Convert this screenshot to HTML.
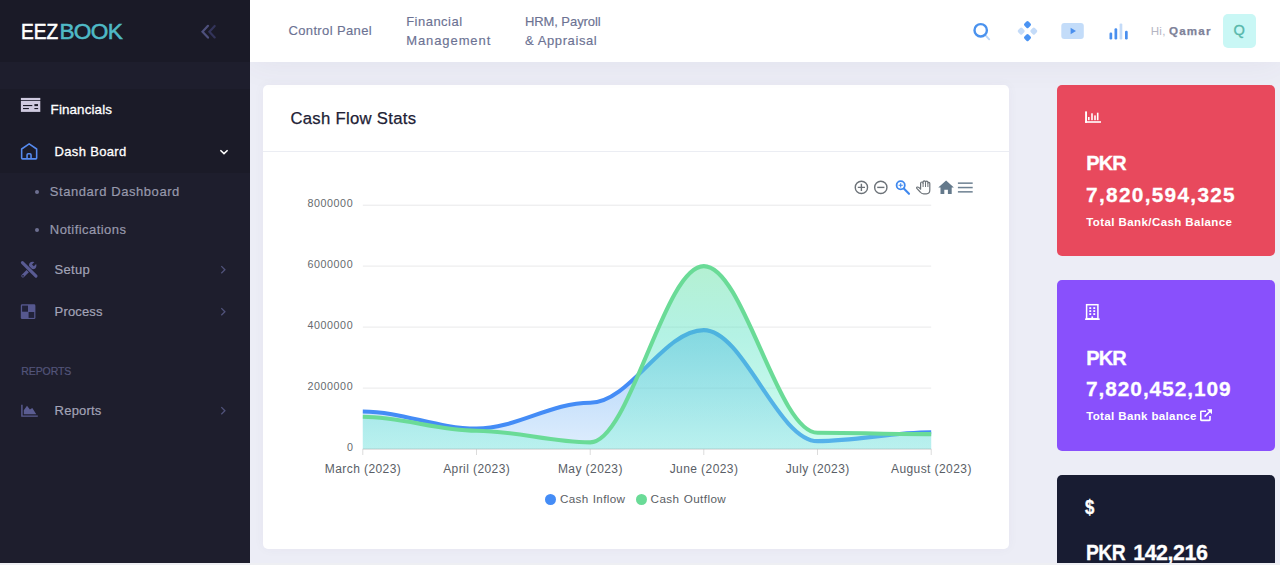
<!DOCTYPE html>
<html lang="en">
<head>
<meta charset="utf-8">
<title>EEZBOOK</title>
<style>
*{box-sizing:border-box;margin:0;padding:0}
html,body{width:1280px;height:565px;overflow:hidden;background:#ecedf6;font-family:"Liberation Sans",sans-serif;}
body{position:relative}
.abs{position:absolute}
.t{position:absolute;white-space:nowrap;line-height:1}
/* sidebar */
#aside{position:absolute;left:0;top:0;width:250px;height:563px;background:#1e1e2d;z-index:3}
#brand{position:absolute;left:0;top:0;width:250px;height:62px;background:#1a1a27}
#open{position:absolute;left:0;top:89px;width:250px;height:84px;background:#1b1b28}
#strip{position:absolute;left:0;top:562.7px;width:1280px;height:2.3px;background:#eeeff3;z-index:5}
/* header */
#header{position:absolute;left:250px;top:0;width:1030px;height:62px;background:#fff;box-shadow:0 0 34px rgba(82,70,100,.07);z-index:2}
.hm{color:#6c7293;font-size:13px;-webkit-text-stroke:.15px #6c7293}
/* cards */
#chartcard{position:absolute;left:263px;top:85px;width:746px;height:464px;background:#fff;border-radius:5px;box-shadow:0 0 12px rgba(82,63,105,.04)}
#chartcard .hd{position:absolute;left:0;top:66px;width:100%;height:1px;background:#ebedf3}
.tile{position:absolute;left:1057px;width:218px;height:171px;border-radius:5px}
.tile .big{color:#fff;font-weight:bold}
.yl{font-size:10.7px;color:#666a6e;letter-spacing:.6px;margin-top:.65px}
.xl{font-size:12px;color:#595e66;letter-spacing:.42px;transform:translateX(-50%);margin-top:.8px}
.lg{font-size:11.7px;color:#5a5e64;margin-top:1.1px;word-spacing:.5px}
.m{color:#a2a3b7;font-size:13px;-webkit-text-stroke:.2px #a2a3b7}
.sub{color:#9899ac;font-size:13px;-webkit-text-stroke:.2px #9899ac}
</style>
</head>
<body>
<div id="aside">
  <div id="brand"></div>
  <div id="open"></div>
  <!-- logo -->
  <div class="t" id="logo" style="left:20.6px;top:20.5px;font-size:22.6px;color:#fff;letter-spacing:0;transform:scaleX(.845);transform-origin:0 0;-webkit-text-stroke:.6px #fff">EEZ</div>
  <div class="t" id="logo2" style="left:59.4px;top:20.5px;font-size:22.6px;color:#4fb9c6;letter-spacing:-.6px;-webkit-text-stroke:.55px #4fb9c6">BOOK</div>
  <!-- toggle -->
  <svg class="abs" id="tog" style="left:199px;top:23px" width="20" height="18" viewBox="0 0 20 18"><path d="M15.7 3 L10.4 8.7 L15.7 14.4" fill="none" stroke="#33345a" stroke-width="2.2" stroke-linecap="round"/><path d="M9 2.8 L3.5 8.7 L9 14.6" fill="none" stroke="#4e507c" stroke-width="2.2" stroke-linecap="round"/></svg>
  <!-- Financials -->
  <svg class="abs" id="icfin" style="left:20px;top:97px" width="21" height="16" viewBox="0 0 21 16"><g transform="translate(0 .6)"><rect x=".9" y=".3" width="19.4" height="2.1" fill="#cfcadf"/><rect x=".9" y="3.2" width="19.4" height="11.1" fill="#cfcadf"/><rect x="3" y="7.4" width="9.3" height="1.1" fill="#1b1b28"/><rect x="14.4" y="6.5" width="3.6" height="2" fill="#1b1b28"/><rect x="3" y="10.4" width="5.9" height="1.1" fill="#1b1b28"/><rect x="14.4" y="10.4" width="3.7" height="1.1" fill="#1b1b28"/></g></svg>
  <div class="t" id="tfin" style="left:50.6px;top:102.5px;font-size:13.4px;color:#fff;letter-spacing:.12px;-webkit-text-stroke:.3px #fff">Financials</div>
  <!-- Dash Board -->
  <svg class="abs" id="ichome" style="left:19px;top:141px" width="20" height="20" viewBox="0 0 20 20"><path d="M2.65 8 L10.15 2.9 L17.65 8 V17 Q17.65 17.85 16.8 17.85 H3.5 Q2.65 17.85 2.65 17 Z" fill="none" stroke="#568aee" stroke-width="1.55" stroke-linejoin="round"/><path d="M8.05 17.6 V13.9 Q8.05 12.75 9.2 12.75 H10.9 Q12.05 12.75 12.05 13.9 V17.6" fill="none" stroke="#568aee" stroke-width="1.55"/></svg>
  <div class="t" id="tdash" style="left:54.6px;top:144.7px;font-size:13px;color:#fff;letter-spacing:.32px;-webkit-text-stroke:.3px #fff">Dash Board</div>
  <svg class="abs" id="chd" style="left:218px;top:147px" width="12" height="10" viewBox="0 0 12 10"><path d="M2.4 3.2 L6 6.6 L9.6 3.2" fill="none" stroke="#fff" stroke-width="1.5"/></svg>
  <!-- sub -->
  <div class="abs" style="left:35.2px;top:189.8px;width:4px;height:4px;border-radius:2px;background:#6d6f90"></div>
  <div class="t sub" id="tstd" style="left:49.8px;top:184.5px;letter-spacing:.56px">Standard Dashboard</div>
  <div class="abs" style="left:35.2px;top:227.8px;width:4px;height:4px;border-radius:2px;background:#6d6f90"></div>
  <div class="t sub" id="tnot" style="left:49.8px;top:222.5px;letter-spacing:.44px">Notifications</div>
  <!-- Setup -->
  <svg class="abs" id="icset" style="left:20px;top:260.4px" width="19" height="19" viewBox="0 0 19 19"><g fill="none" stroke-linecap="round"><path d="M2.9 15.9 L11 7.8" stroke="#595b93" stroke-width="3.2"/><circle cx="12.7" cy="5.5" r="3.7" fill="#595b93" stroke="none"/><path d="M12.9 5.3 L17.4 .8" stroke="#1e1e2d" stroke-width="2.6" stroke-linecap="butt"/><path d="M2.4 2.6 L16 16.2" stroke="#1e1e2d" stroke-width="4.6"/><path d="M2.4 2.6 L16 16.2" stroke="#595b93" stroke-width="3.1"/></g><circle cx="3" cy="15.8" r=".85" fill="#1e1e2d"/></svg>
  <div class="t m" id="tset" style="left:54.6px;top:262.6px;letter-spacing:.3px">Setup</div>
  <svg class="abs chr" style="left:219px;top:264px" width="8" height="12" viewBox="0 0 8 12"><path d="M2.3 2.1 L5.9 5.7 L2.3 9.3" fill="none" stroke="#50527a" stroke-width="1.3"/></svg>
  <!-- Process -->
  <svg class="abs" id="icpro" style="left:20px;top:304px" width="16" height="16" viewBox="0 0 16 16"><rect x=".8" y=".3" width="14.6" height="14.8" rx="1.4" fill="#56588f"/><rect x="2.1" y="1.6" width="5.9" height="6.1" fill="#212239"/><rect x="8.6" y="8" width="5.6" height="5.9" fill="#212239"/></svg>
  <div class="t m" id="tpro" style="left:54.6px;top:305px;letter-spacing:.15px">Process</div>
  <svg class="abs chr" style="left:219px;top:306px" width="8" height="12" viewBox="0 0 8 12"><path d="M2.3 2.1 L5.9 5.7 L2.3 9.3" fill="none" stroke="#50527a" stroke-width="1.3"/></svg>
  <!-- section -->
  <div class="t" id="tsec" style="left:21.3px;top:366.3px;font-size:10.5px;color:#53557a;letter-spacing:-.1px;-webkit-text-stroke:.2px #53557a">REPORTS</div>
  <!-- Reports -->
  <svg class="abs" id="icrep" style="left:20px;top:404px" width="19" height="14" viewBox="0 0 19 14"><path d="M1.2 .8 H2.6 V11.4 H17.8 V12.8 H1.2 Z" fill="#5b5d92"/><path d="M3.8 10.2 V6.2 L7 1.7 L9.9 5.5 L12.3 4 L16.3 10.2 Z" fill="#5b5d92"/></svg>
  <div class="t m" id="trep" style="left:54.6px;top:404px;letter-spacing:.21px">Reports</div>
  <svg class="abs chr" style="left:219px;top:405px" width="8" height="12" viewBox="0 0 8 12"><path d="M2.3 2.1 L5.9 5.7 L2.3 9.3" fill="none" stroke="#50527a" stroke-width="1.3"/></svg>
</div>
<div id="header">
  <div class="t hm" id="h1" style="left:38.4px;top:24.4px;letter-spacing:.38px">Control Panel</div>
  <div class="t hm" id="h2a" style="left:156.2px;top:15.1px;letter-spacing:.48px">Financial</div>
  <div class="t hm" id="h2b" style="left:156.2px;top:33.8px;letter-spacing:.91px">Management</div>
  <div class="t hm" id="h3a" style="left:274.9px;top:15.1px;letter-spacing:-.07px">HRM, Payroll</div>
  <div class="t hm" id="h3b" style="left:274.9px;top:33.8px;letter-spacing:.61px">&amp; Appraisal</div>
  <!-- icons (coords relative to header: x-250) -->
  <svg class="abs" id="icsearch" style="left:720px;top:20px" width="24" height="24" viewBox="0 0 24 24"><path d="M15.8 15.6 L19.2 19.3" stroke="#bdd7f8" stroke-width="1.9" stroke-linecap="round" fill="none"/><circle cx="10.7" cy="10.3" r="6.2" fill="none" stroke="#4a92ee" stroke-width="2.4"/></svg>
  <svg class="abs" id="icdia" style="left:766px;top:20px" width="24" height="24" viewBox="0 0 24 24"><g><rect x="-2.9" y="-2.9" width="5.8" height="5.8" rx="1.5" transform="translate(11.5 4.6) rotate(45)" fill="#4a93f3"/><rect x="-2.9" y="-2.9" width="5.8" height="5.8" rx="1.5" transform="translate(11.5 17.6) rotate(45)" fill="#4a93f3"/><rect x="-2.9" y="-2.9" width="5.8" height="5.8" rx="1.5" transform="translate(5.2 11.1) rotate(45)" fill="#c4dbf8"/><rect x="-2.9" y="-2.9" width="5.8" height="5.8" rx="1.5" transform="translate(17.8 11.1) rotate(45)" fill="#c4dbf8"/></g></svg>
  <svg class="abs" id="icplay" style="left:810px;top:20px" width="26" height="22" viewBox="0 0 26 22"><rect x="1.3" y="2.9" width="22.5" height="16" rx="3" fill="#c3dcf9"/><path d="M10.6 7.8 L16 11 L10.6 14.2 Z" fill="#4a8fee"/></svg>
  <svg class="abs" id="icbars" style="left:857px;top:20px" width="24" height="22" viewBox="0 0 24 22"><rect x="2.5" y="12.5" width="2.7" height="7" rx="1.2" fill="#4a8fee"/><rect x="7.5" y="8.3" width="2.7" height="11.2" rx="1.2" fill="#4a8fee"/><rect x="12.6" y="3.4" width="2.7" height="16.1" rx="1.2" fill="#c4dbf8"/><rect x="18" y="10.7" width="2.7" height="8.8" rx="1.2" fill="#4a8fee"/></svg>
  <div class="t" id="hi" style="left:900.8px;top:25.1px;font-size:11.6px;color:#b5b5c3;letter-spacing:.2px">Hi,</div>
  <div class="t" id="qamar" style="left:919px;top:25.1px;font-size:11.6px;font-weight:bold;color:#7e8299;letter-spacing:1.2px;-webkit-text-stroke:.25px #7e8299">Qamar</div>
  <div class="abs" id="sym" style="left:972.6px;top:14.4px;width:33.4px;height:33.4px;border-radius:5px;background:#c9f7f5"></div>
  <div class="t" id="symq" style="left:983.6px;top:22.8px;font-size:14.6px;color:#58b8ab;-webkit-text-stroke:.35px #58b8ab">Q</div>
</div>
<div id="chartcard"><div class="hd"></div>
<div class="t" id="ctitle" style="left:27.4px;top:25.6px;font-size:16.7px;letter-spacing:.3px;color:#212135;-webkit-text-stroke:.25px #212135">Cash Flow Stats</div>
<svg class="abs" id="chart" style="left:0;top:0" width="746" height="464" viewBox="0 0 746 464">
<defs>
<linearGradient id="gb" gradientUnits="userSpaceOnUse" x1="0" y1="245.1" x2="0" y2="364.0"><stop offset="0" stop-color="#4198f2" stop-opacity="0.45"/><stop offset="1" stop-color="#4198f2" stop-opacity="0.17"/></linearGradient>
<linearGradient id="gg" gradientUnits="userSpaceOnUse" x1="0" y1="181" x2="0" y2="364"><stop offset="0" stop-color="#69e1a5" stop-opacity=".5"/><stop offset=".38" stop-color="#58e2c4" stop-opacity=".45"/><stop offset="1" stop-color="#76f7d4" stop-opacity=".35"/></linearGradient>
</defs>
<rect x="99.8" y="363.5" width="568.4" height="1" fill="#e9e9ea"/>
<rect x="99.8" y="302.6" width="568.4" height="1" fill="#e9e9ea"/>
<rect x="99.8" y="241.6" width="568.4" height="1" fill="#e9e9ea"/>
<rect x="99.8" y="180.6" width="568.4" height="1" fill="#e9e9ea"/>
<rect x="99.8" y="119.7" width="568.4" height="1" fill="#e9e9ea"/>
<rect x="99.3" y="364.0" width="1" height="6" fill="#dcdcdc"/>
<rect x="213.0" y="364.0" width="1" height="6" fill="#dcdcdc"/>
<rect x="326.7" y="364.0" width="1" height="6" fill="#dcdcdc"/>
<rect x="440.3" y="364.0" width="1" height="6" fill="#dcdcdc"/>
<rect x="554.0" y="364.0" width="1" height="6" fill="#dcdcdc"/>
<rect x="667.7" y="364.0" width="1" height="6" fill="#dcdcdc"/>
<path d="M99.8 326.5 C139.6 326.5 173.7 343.6 213.5 343.6 C253.3 343.6 287.4 317.7 327.2 317.7 C366.9 317.7 401.1 245.1 440.8 245.1 C480.6 245.1 514.7 356.1 554.5 356.1 C594.3 356.1 628.4 347.2 668.2 347.2 L668.2 364.0 L99.8 364.0 Z" fill="url(#gb)"/>
<path d="M99.8 326.5 C139.6 326.5 173.7 343.6 213.5 343.6 C253.3 343.6 287.4 317.7 327.2 317.7 C366.9 317.7 401.1 245.1 440.8 245.1 C480.6 245.1 514.7 356.1 554.5 356.1 C594.3 356.1 628.4 347.2 668.2 347.2" fill="none" stroke="#448cf6" stroke-width="4.1" stroke-linecap="butt"/>
<path d="M99.8 331.8 C139.6 331.8 173.7 345.7 213.5 345.7 C253.3 345.7 287.4 357.4 327.2 357.4 C366.9 357.4 401.1 181.1 440.8 181.1 C480.6 181.1 514.7 347.8 554.5 347.8 C594.3 347.8 628.4 349.1 668.2 349.1 L668.2 364.0 L99.8 364.0 Z" fill="url(#gg)"/>
<path d="M99.8 331.8 C139.6 331.8 173.7 345.7 213.5 345.7 C253.3 345.7 287.4 357.4 327.2 357.4 C366.9 357.4 401.1 181.1 440.8 181.1 C480.6 181.1 514.7 347.8 554.5 347.8 C594.3 347.8 628.4 349.1 668.2 349.1" fill="none" stroke="#6adb97" stroke-width="4.1" stroke-linecap="butt"/>
<rect x="99.8" y="363.6" width="568.4" height="1" fill="#9a9a9a" fill-opacity=".35"/>
</svg>
<div class="t yl" style="left:83.9px;top:356.0px">0</div>
<div class="t yl" style="left:44.4px;top:295.0px">2000000</div>
<div class="t yl" style="left:44.4px;top:234.1px">4000000</div>
<div class="t yl" style="left:44.4px;top:173.1px">6000000</div>
<div class="t yl" style="left:44.4px;top:112.2px">8000000</div>
<div class="t xl" style="left:100.0px;top:377.4px">March (2023)</div>
<div class="t xl" style="left:213.7px;top:377.4px">April (2023)</div>
<div class="t xl" style="left:327.4px;top:377.4px">May (2023)</div>
<div class="t xl" style="left:441.0px;top:377.4px">June (2023)</div>
<div class="t xl" style="left:554.7px;top:377.4px">July (2023)</div>
<div class="t xl" style="left:668.4px;top:377.4px">August (2023)</div>
<svg class="abs" id="tools" style="left:587px;top:91.2px" width="126" height="22" viewBox="850 176 126 22">
<g fill="none" stroke="#6c7278" stroke-width="1.4"><circle cx="861.4" cy="187.4" r="6.15"/><path d="M857.8 187.4 H865 M861.4 183.8 V191"/><circle cx="880.8" cy="187.4" r="6.15"/><path d="M877.2 187.4 H884.4"/></g>
<g fill="none" stroke="#3f88ee"><circle cx="900.7" cy="185.3" r="4.1" stroke-width="1.8"/><path d="M903.8 188.6 L909 193.8" stroke-width="2.1" stroke-linecap="round"/><path d="M898.6 185.3 H902.8 M900.7 183.2 V187.4" stroke-width="1.1"/></g>
<g fill="none" stroke="#6c7278" stroke-width="1.2" stroke-linejoin="round"><path d="M920.6 189.2 V183.4 Q920.6 182 921.9 182 Q923.1 182 923.1 183.4 V181.9 Q923.1 180.9 924.3 180.9 Q925.5 180.9 925.5 181.9 V182.2 Q925.5 181.2 926.7 181.2 Q927.9 181.2 927.9 182.4 V183.2 Q927.9 182.4 928.9 182.4 Q929.8 182.4 929.8 183.6 V190 Q929.8 193.8 926.4 193.8 H923.6 Q921.6 193.8 920.2 192 L916.8 188.4 Q916.2 187.4 917.4 187 Q918.6 186.8 920.6 189.2 Z"/><path d="M923.1 183.4 V187 M925.5 182.2 V187 M927.9 183.2 V187" stroke-width="1"/></g>
<path d="M946.1 180.6 L953.9 187.6 H951.7 V194 H947.9 V189.8 H944.3 V194 H940.5 V187.6 H938.3 Z" fill="#64798b"/>
<g fill="#6e8192"><rect x="957.9" y="182.4" width="14.8" height="1.5"/><rect x="957.9" y="186.8" width="14.8" height="1.5"/><rect x="957.9" y="191.1" width="14.8" height="1.5"/></g>
</svg>
<div class="abs" style="left:281.8px;top:408.7px;width:11.6px;height:11.6px;border-radius:6px;background:#448cf6"></div>
<div class="t lg" style="left:296.9px;top:407.4px;letter-spacing:.36px">Cash Inflow</div>
<div class="abs" style="left:372.5px;top:408.7px;width:11.6px;height:11.6px;border-radius:6px;background:#6adb97"></div>
<div class="t lg" style="left:387.6px;top:407.4px;letter-spacing:.41px">Cash Outflow</div>
</div>
<div class="tile" id="tile1" style="top:85px;background:#e8495d">
<svg class="abs" style="left:27px;top:25px" width="18" height="14" viewBox="1084 110 18 14"><g fill="#fff"><rect x="1085.1" y="111.4" width="1.9" height="11.4"/><rect x="1085.1" y="121.2" width="15.9" height="1.6"/><rect x="1088" y="117" width="1.6" height="3.2"/><rect x="1091.2" y="113.3" width="1.6" height="6.9"/><rect x="1094.2" y="115.4" width="1.6" height="4.8"/><rect x="1096.9" y="112.7" width="1.6" height="7.5"/></g></svg>
<div class="t big" style="left:29.2px;top:68.4px;font-size:20px;letter-spacing:-0.9px;-webkit-text-stroke:.3px #fff">PKR</div>
<div class="t big" style="left:29.1px;top:99.6px;font-size:20.8px;letter-spacing:1.3px;-webkit-text-stroke:.3px #fff">7,820,594,325</div>
<div class="t big" style="left:29.2px;top:132.4px;font-size:11.5px;letter-spacing:0.42px">Total Bank/Cash Balance</div>
</div>
<div class="tile" id="tile2" style="top:280px;background:#8950fc">
<svg class="abs" style="left:27px;top:23px" width="17" height="18" viewBox="1084 303 17 18"><rect x="1086.6" y="304.7" width="11.3" height="14" fill="none" stroke="#fff" stroke-width="1.5"/><rect x="1085.1" y="318.4" width="14.6" height="1.6" fill="#fff"/><g fill="#fff"><rect x="1089.3" y="307.2" width="1.9" height="1.8"/><rect x="1093.3" y="307.2" width="1.9" height="1.8"/><rect x="1089.3" y="310.2" width="1.9" height="1.8"/><rect x="1093.3" y="310.2" width="1.9" height="1.8"/><rect x="1089.3" y="313.2" width="1.9" height="1.8"/><rect x="1093.3" y="313.2" width="1.9" height="1.8"/><rect x="1091.4" y="316.4" width="1.7" height="2.2"/></g></svg>
<div class="t big" style="left:29.2px;top:68.1px;font-size:20px;letter-spacing:-0.9px;-webkit-text-stroke:.3px #fff">PKR</div>
<div class="t big" style="left:29.1px;top:99.3px;font-size:20.8px;letter-spacing:0.95px;-webkit-text-stroke:.3px #fff">7,820,452,109</div>
<div class="t big" style="left:29.2px;top:131.2px;font-size:11.5px;letter-spacing:0.37px">Total Bank balance</div>
<svg class="abs" style="left:142px;top:128px" width="15" height="15" viewBox="1199 408 15 15"><g fill="none" stroke="#fff" stroke-width="1.6"><path d="M1206 411.2 H1201.4 Q1200.8 411.2 1200.8 411.8 V419.8 Q1200.8 420.4 1201.4 420.4 H1209.4 Q1210 420.4 1210 419.8 V416"/><path d="M1204.6 416.6 L1211 410.2"/></g><path d="M1207 409.3 H1212 V414.3 Z" fill="#fff"/></svg>
</div>
<div class="tile" id="tile3" style="top:474.5px;height:100px;background:#181c32">
<div class="t big" id="dollar" style="left:28.2px;top:23.6px;font-size:19.5px;-webkit-text-stroke:.4px #fff;transform:scaleX(.86);transform-origin:0 0">$</div>
<div class="t big" id="pkr3" style="left:29.3px;top:68.3px;font-size:21.4px;letter-spacing:-.6px;transform:scaleX(.9);transform-origin:0 0;-webkit-text-stroke:.3px #fff">PKR</div>
<div class="t big" id="num3" style="left:76.2px;top:68.3px;font-size:21.4px;letter-spacing:-0.45px;-webkit-text-stroke:.3px #fff">142,216</div>
</div>
<div id="strip"></div>
</body>
</html>
